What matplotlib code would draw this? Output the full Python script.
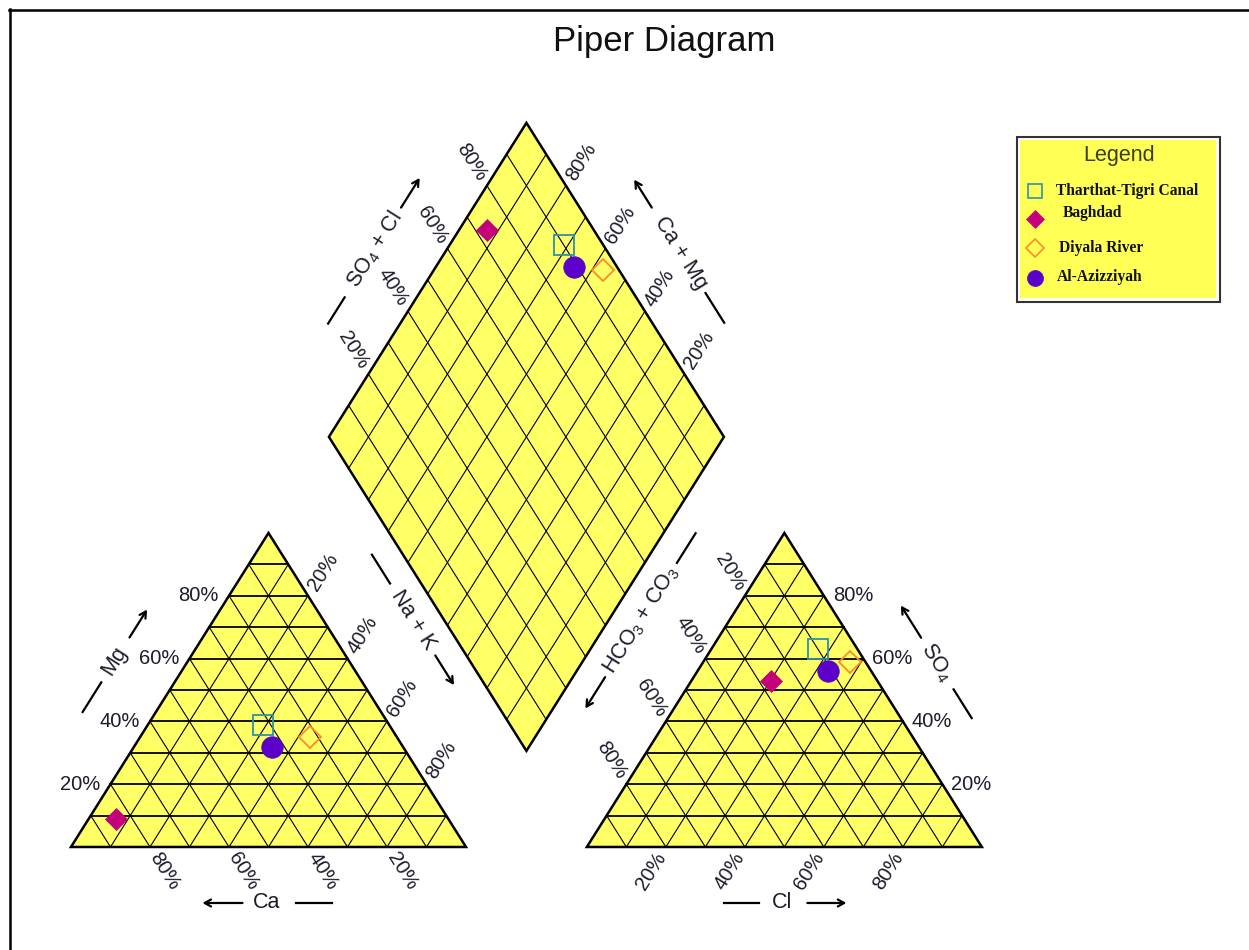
import numpy as np
import matplotlib
matplotlib.use("Agg")
import matplotlib.pyplot as plt
from matplotlib.patches import Polygon, Rectangle
from matplotlib.lines import Line2D

plt.rcParams['font.family'] = ['Liberation Sans', 'DejaVu Sans']
plt.rcParams['mathtext.fontset'] = 'custom'
plt.rcParams['mathtext.rm'] = 'Liberation Sans'
plt.rcParams['mathtext.it'] = 'Liberation Sans:italic'

# Sample composition (% meq)
samples = ["Tharthat-Tigri Canal", "Baghdad", "Diyala River", "Al-Azizziyah"]
ca = [32, 84, 22, 33]
mg = [39, 9, 35, 32]
na_k = [29, 7, 43, 35]
hco3 = [10, 27, 4, 11]
so4 = [63, 53, 59, 56]
cl = [27, 20, 37, 33]

markers = ['s', 'D', 'D', 'o']
colors = ['#2b93a8', '#c4007c', '#ff8a2a', '#5a00c8']
filled = [False, True, False, True]
tick_vals = [20, 40, 60, 80]

FILL = '#ffff66'
TXT = '#1c1c2c'
GAP = 0.306
H = np.sqrt(3) / 2


def cation_xy(na, m):
    return na + m / 2, m * H


def anion_xy(c, s):
    return 1 + GAP + c + s / 2, s * H


def diamond_xy(a, b):
    bx, by = 1 + GAP / 2, GAP * H
    return bx - (1 - a) / 2 + b / 2, by + H * ((1 - a) + b)


fig = plt.figure(figsize=(12.49, 9.5), dpi=100)
ax = fig.add_axes([0, 0, 1, 1])
ax.set_xlim(-0.1797, 2.9823)
ax.set_ylim(-0.2841, 2.3359)
ax.axis('off')


def to_px(p):
    return ax.transData.transform(p)


def to_data(q):
    return ax.transData.inverted().transform(q)


def unit(a, b):
    d = to_px(b) - to_px(a)
    return d / np.hypot(*d)


def norm_angle(u):
    ang = np.degrees(np.arctan2(u[1], u[0]))
    if ang > 90:
        ang -= 180
    if ang < -90:
        ang += 180
    return ang


# ---- shapes ----
cat_tri = [cation_xy(0, 0), cation_xy(1, 0), cation_xy(0, 1)]
an_tri = [anion_xy(0, 0), anion_xy(1, 0), anion_xy(0, 1)]
dia = [diamond_xy(1, 0), diamond_xy(1, 1), diamond_xy(0, 1), diamond_xy(0, 0)]

for poly in (cat_tri, an_tri, dia):
    ax.add_patch(Polygon(poly, closed=True, facecolor=FILL, edgecolor='none', zorder=1))

fr = np.arange(1, 10) / 10
for f in fr:
    # cation triangle
    ax.plot(*zip(cation_xy(0, f), cation_xy(1 - f, f)), color='black', lw=1.3, zorder=2)
    ax.plot(*zip(cation_xy(f, 0), cation_xy(f, 1 - f)), color='black', lw=0.8, zorder=2)
    ax.plot(*zip(cation_xy(1 - f, 0), cation_xy(0, 1 - f)), color='black', lw=0.8, zorder=2)
    # anion triangle
    ax.plot(*zip(anion_xy(0, f), anion_xy(1 - f, f)), color='black', lw=1.3, zorder=2)
    ax.plot(*zip(anion_xy(f, 0), anion_xy(f, 1 - f)), color='black', lw=0.8, zorder=2)
    ax.plot(*zip(anion_xy(1 - f, 0), anion_xy(0, 1 - f)), color='black', lw=0.8, zorder=2)
    # diamond
    ax.plot(*zip(diamond_xy(f, 0), diamond_xy(f, 1)), color='black', lw=0.8, zorder=2)
    ax.plot(*zip(diamond_xy(0, f), diamond_xy(1, f)), color='black', lw=0.8, zorder=2)

for poly in (cat_tri, an_tri, dia):
    ax.add_patch(Polygon(poly, closed=True, facecolor='none', edgecolor='black',
                         lw=1.8, joinstyle='miter', zorder=3))

# ---- tick labels ----
TFS = 14.5
DIST = 28


def tick(p, u, txt, rot):
    q = to_data(to_px(p) + u * DIST)
    ax.text(q[0], q[1], txt, rotation=rot, rotation_mode='anchor',
            ha='center', va='center', fontsize=TFS, color=TXT)


def htick(p, dx, txt, ha):
    q = to_data(to_px(p) + np.array([dx, 0]))
    ax.text(q[0], q[1], txt, ha=ha, va='center', fontsize=TFS, color=TXT)


u_dr = unit(cat_tri[2], cat_tri[1])   # down-right
u_ur = unit(cat_tri[0], cat_tri[2])   # up-right
u_dl = -u_ur
u_ul = -u_dr
for v in tick_vals:
    f = v / 100
    lab = f"{v}%"
    tick(cation_xy(1 - f, 0), u_dr, lab, norm_angle(u_dr))
    htick(cation_xy(0, f), -10, lab, 'right')
    tick(cation_xy(f, 1 - f), u_ur, lab, norm_angle(u_ur))
    tick(anion_xy(f, 0), u_dl, lab, norm_angle(u_dl))
    htick(anion_xy(1 - f, f), 9, lab, 'left')
    tick(anion_xy(0, 1 - f), u_ul, lab, norm_angle(u_ul))
    tick(diamond_xy(0, f), u_ul, lab, norm_angle(u_ul))
    tick(diamond_xy(1 - f, 1), u_ur, lab, norm_angle(u_ur))


# ---- axis titles with dash + arrow ----
def edge_title(A, B, label, s, t_text, dash, arrow):
    a, b = to_px(A), to_px(B)
    m = (a + b) / 2
    u = (b - a) / np.hypot(*(b - a))
    n = np.array([-u[1], u[0]])

    def at(t):
        return to_data(m + u * t + n * s)

    p = at(t_text)
    ax.text(p[0], p[1], label, rotation=norm_angle(u), rotation_mode='anchor',
            ha='center', va='center', fontsize=15.5, color=TXT)
    d0, d1 = at(dash[0]), at(dash[1])
    ax.plot([d0[0], d1[0]], [d0[1], d1[1]], color='black', lw=1.6)
    a0, a1 = at(arrow[0]), at(arrow[1])
    ax.annotate('', xy=a1, xytext=a0,
                arrowprops=dict(arrowstyle='->,head_length=0.45,head_width=0.25',
                                lw=1.6, color='black', shrinkA=0, shrinkB=0))


edge_title(cat_tri[0], cat_tri[2], 'Mg', 62, -5, (-65, -30), (23, 56))
edge_title(cat_tri[2], cat_tri[1], 'Na + K', 76, -35, (-112, -78), (7, 42))
edge_title(cat_tri[1], cat_tri[0], 'Ca', 56, 1.5, (-64, -28), (26, 66))
edge_title(an_tri[1], an_tri[0], 'Cl', 56, 2, (25, 60), (-23, -62))
edge_title(an_tri[0], an_tri[2], r'HCO$_3$ + CO$_3$', 75, 36, (103, 138), (-32, -69))
edge_title(an_tri[2], an_tri[1], r'SO$_4$', 60, 5, (37, 71), (-24, -62))
edge_title(dia[3], dia[2], r'SO$_4$ + Cl', 61, -3, (-90, -59), (47, 82))
edge_title(dia[2], dia[1], 'Ca + Mg', 61, 6.5, (54, 89), (-47, -80))

# ---- sample points ----
sizes = {'s': 14, 'D': 11.5, 'o': 15.5}
for i in range(len(samples)):
    pts = [cation_xy(na_k[i] / 100, mg[i] / 100),
           anion_xy(cl[i] / 100, so4[i] / 100),
           diamond_xy(na_k[i] / 100, (so4[i] + cl[i]) / 100)]
    for x, y in pts:
        ax.plot(x, y, marker=markers[i], ms=sizes[markers[i]], ls='none',
                mfc=colors[i] if filled[i] else 'none', mec=colors[i],
                mew=1.3 if not filled[i] else 0.5, zorder=5)

# ---- title ----
fig.text(664 / 1249, 1 - 42 / 950, 'Piper Diagram', ha='center', va='center',
         fontsize=25, color='#111111')

# ---- legend ----
W, Hh = 1249, 950
ax.add_patch(Rectangle((1017 / W, 1 - 302 / Hh), 203 / W, 165 / Hh, transform=ax.transAxes,
                       facecolor='white', edgecolor='#333333', lw=1.5, zorder=6))
ax.add_patch(Rectangle((1020 / W, 1 - 298 / Hh), 196 / W, 158 / Hh, transform=ax.transAxes,
                       facecolor='#ffff55', edgecolor='none', zorder=6))
ax.text(1119 / W, 1 - 155 / Hh, 'Legend', transform=ax.transAxes, ha='center', va='center',
        fontsize=15.5, color='#3d3d10', zorder=7)
leg_marker_y = [191, 219, 248, 278]
leg_text_x = [1056, 1063, 1059, 1057]
leg_text_y = [191, 213, 248, 277]
leg_sizes = {'s': 10.5, 'D': 9, 'o': 11.5}
for i, name in enumerate(samples):
    ax.plot(1035 / W, 1 - leg_marker_y[i] / Hh, marker=markers[i], ms=leg_sizes[markers[i]],
            transform=ax.transAxes, ls='none',
            mfc=colors[i] if filled[i] else 'none', mec=colors[i],
            mew=1.2 if not filled[i] else 0.5, zorder=7, clip_on=False)
    ax.text(leg_text_x[i] / W, 1 - leg_text_y[i] / Hh, name, transform=ax.transAxes,
            ha='left', va='center', fontsize=11.2, fontweight='bold',
            family=['Liberation Serif', 'DejaVu Serif'], color='#111111', zorder=7)

# ---- outer frame (left and top edges only) ----
fig.add_artist(Line2D([9.5 / W, 9.5 / W], [0, 1 - 9 / Hh], transform=fig.transFigure,
                      color='black', lw=1.8))
fig.add_artist(Line2D([9 / W, 1], [1 - 9.5 / Hh, 1 - 9.5 / Hh], transform=fig.transFigure,
                      color='black', lw=1.8))

fig.savefig('out.png', dpi=100)
